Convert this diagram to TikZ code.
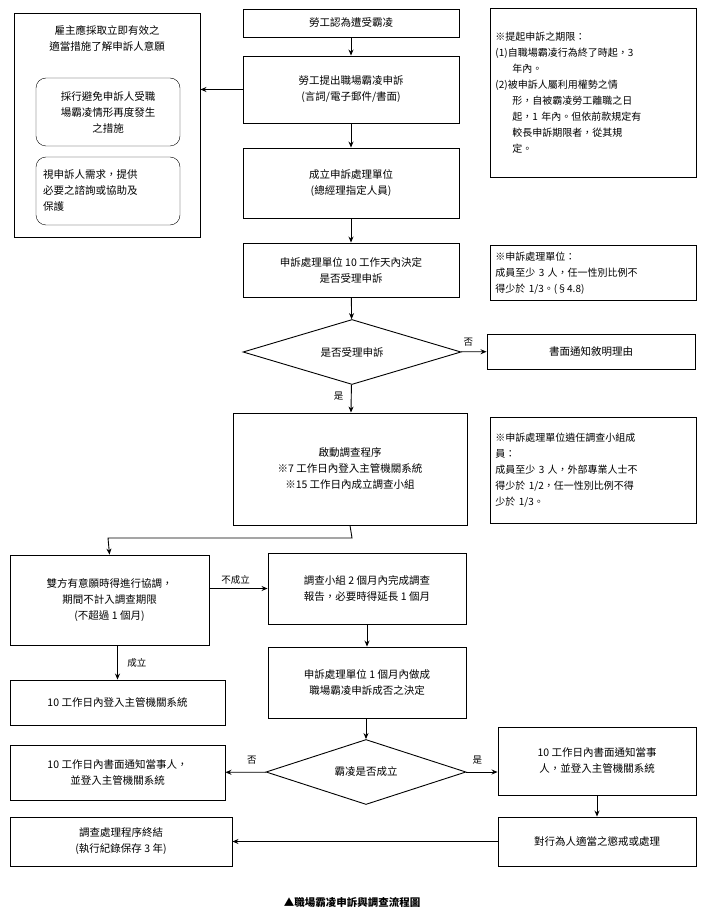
\documentclass[tikz,border=0pt]{standalone}
\usepackage{fontspec}
\setmainfont{Noto Sans CJK TC}
\usetikzlibrary{shapes.geometric,arrows.meta}
\begin{document}
\begin{tikzpicture}[x=1pt,y=-1pt,
 every node/.style={font=\fontsize{10.5}{16}\selectfont},
 box/.style={draw,line width=0.9pt,align=center,inner sep=2pt},
 note/.style={draw,line width=0.9pt,align=left,inner xsep=5pt,inner ysep=5pt,anchor=north west,text width=196pt,font=\fontsize{10}{16}\selectfont},
 arr/.style={-{Stealth[length=6pt,width=5pt]},line width=0.9pt},
 lab/.style={font=\fontsize{9.5}{11}\selectfont}]
\useasboundingbox (0,0) rectangle (710,917);
\newcommand{\bx}[6]{\node[box,minimum width=#3-#2,minimum height=#5-#4] (#1) at ({(#2+#3)/2},{(#4+#5)/2}) {#6};}
\bx{lb}{14}{200}{13}{237}{}
\node[align=center] (lt) at (107,38) {雇主應採取立即有效之\\適當措施了解申訴人意願};
\node[draw,rounded corners=10pt,minimum width=144,minimum height=68,align=center] (r1) at (108,112) {採行避免申訴人受職\\場霸凌情形再度發生\\之措施};
\node[draw,rounded corners=10pt,minimum width=144,minimum height=68,text width=130pt,align=left] (r2) at (108,191) {視申訴人需求，提供\\必要之諮詢或協助及\\保護};
\bx{a}{243}{459}{9}{37}{勞工認為遭受霸凌}
\bx{b}{243}{459}{56}{123}{勞工提出職場霸凌申訴\\(言詞/電子郵件/書面)}
\bx{c}{243}{459}{148}{218}{成立申訴處理單位\\(總經理指定人員)}
\bx{d}{243}{459}{243}{297}{申訴處理單位 10 工作天內決定\\是否受理申訴}
\node[note,minimum height=169] (n1) at (490,8) {※提起申訴之期限：\\(1)自職場霸凌行為終了時起，3\\\hspace*{1.7em}年內。\\(2)被申訴人屬利用權勢之情\\\hspace*{1.7em}形，自被霸凌勞工離職之日\\\hspace*{1.7em}起，1 年內。但依前款規定有\\\hspace*{1.7em}較長申訴期限者，從其規\\\hspace*{1.7em}定。};
\node[note,minimum height=55] (n2) at (490,245) {※申訴處理單位：\\成員至少 3 人，任一性別比例不\\得少於 1/3。(§4.8)};
\node[note,minimum height=106] (n3) at (490,417) {※申訴處理單位遴任調查小組成\\員：\\成員至少 3 人，外部專業人士不\\得少於 1/2，任一性別比例不得\\少於 1/3。};
\node[draw,line width=0.9pt,diamond,aspect=3.4,minimum width=218,minimum height=65,inner sep=0] (dia1) at (352,352) {是否受理申訴};
\bx{e}{487}{695}{334}{369}{書面通知敘明理由}
\bx{f}{233}{467}{413}{525}{啟動調查程序\\※7 工作日內登入主管機關系統\\※15 工作日內成立調查小組}
\bx{g}{10}{209}{555}{645}{雙方有意願時得進行協調，\\期間不計入調查期限\\(不超過 1 個月)}
\bx{h}{268}{466}{553}{624}{調查小組 2 個月內完成調查\\報告，必要時得延長 1 個月}
\bx{i}{268}{466}{647}{718}{申訴處理單位 1 個月內做成\\職場霸凌申訴成否之決定}
\bx{j}{10}{225}{680}{725}{10 工作日內登入主管機關系統}
\node[draw,line width=0.9pt,diamond,aspect=3.1,minimum width=200,minimum height=65,inner sep=0] (dia2) at (366,772) {霸凌是否成立};
\bx{k}{10}{225}{745}{800}{10 工作日內書面通知當事人，\\並登入主管機關系統}
\bx{l}{498}{696}{727}{795}{10 工作日內書面通知當事\\人，並登入主管機關系統}
\bx{m}{498}{696}{817}{866}{對行為人適當之懲戒或處理}
\bx{o}{10}{232}{817}{866}{調查處理程序終結\\(執行紀錄保存 3 年)}
\node[font=\bfseries\fontsize{10.5}{12}\selectfont] (cap) at (352,902) {▲職場霸凌申訴與調查流程圖};
\draw[arr] (a) -- (b);
\draw[arr] (b.west) -- (lb.east|-b.west);
\draw[arr] (b) -- (c);
\draw[arr] (c) -- (d);
\draw[arr] (d) -- (dia1);
\draw[arr] (dia1) -- node[lab,above,pos=0.3,yshift=2pt]{否} (e);
\draw[arr] (dia1) -- node[lab,left,pos=0.4,xshift=-4pt]{是} (f);
\coordinate (t1) at (108,538);
\draw[arr] (f.south) -- (352,538) -- (t1) -- (g.north);
\draw[arr] (g.east|-h) -- node[lab,above,pos=0.45]{不成立} (h.west);
\draw[arr] (h) -- (i);
\draw[arr] (g.south-|j) -- node[lab,right,xshift=6pt]{成立} (j);
\draw[arr] (i.south-|dia2) -- (dia2);
\draw[arr] (dia2) -- node[lab,above,pos=0.35,yshift=4pt]{否} (k);
\draw[arr] (dia2.east) -- node[lab,above,pos=0.35,yshift=4pt]{是} (l.west|-dia2.east);
\draw[arr] (l) -- (m);
\draw[arr] (m) -- (o);
\end{tikzpicture}
\end{document}
